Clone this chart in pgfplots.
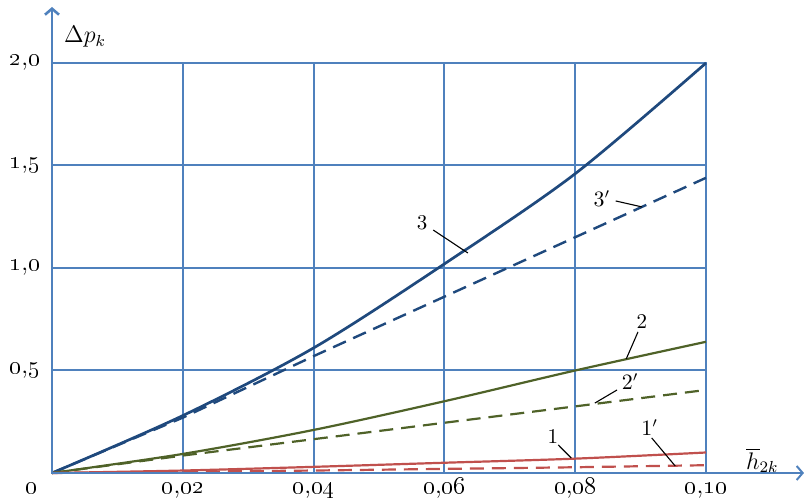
\documentclass[border=0pt]{standalone}
\usepackage{pgfplots}
\pgfplotsset{compat=1.18}
\usetikzlibrary{arrows.meta}
\definecolor{gridblue}{RGB}{79,129,189}
\definecolor{cthree}{RGB}{31,73,125}
\definecolor{ctwo}{RGB}{79,98,40}
\definecolor{cone}{RGB}{192,80,77}
\newcommand{\os}[2]{\oldstylenums{#1},\oldstylenums{#2}}
\begin{document}
\begin{tikzpicture}
\begin{axis}[
  at={(0,0)}, anchor=origin,
  scale only axis, width=327pt, height=205pt,
  xmin=0, xmax=0.1, ymin=0, ymax=2,
  xtick={0.02,0.04,0.06,0.08,0.10},
  xticklabels={{\os{0}{02}},{\os{0}{04}},{\os{0}{06}},{\os{0}{08}},{\os{0}{10}}},
  ytick={0.5,1,1.5,2},
  yticklabels={{\os{0}{5}},{\os{1}{0}},{\os{1}{5}},{\os{2}{0}}},
  major tick length=0pt,
  grid=major,
  grid style={gridblue, line width=1pt},
  axis line style={gridblue, line width=1pt},
  tick label style={font=\fontsize{12.5}{12.5}\selectfont, text=black},
  xticklabel style={anchor=base, yshift=-10.5pt},
  yticklabel style={xshift=-2.5pt},
  clip=false,
]
\addplot[cthree, line width=1.35pt, smooth] coordinates {(0,0)(0.02,0.28)(0.04,0.61)(0.06,1.02)(0.08,1.46)(0.10,2.0)};
\addplot[cthree, line width=1.2pt, dash pattern=on 7pt off 4pt] coordinates {(0,0)(0.02,0.27)(0.04,0.57)(0.06,0.86)(0.08,1.15)(0.10,1.44)};
\addplot[ctwo, line width=1.1pt, smooth] coordinates {(0,0)(0.02,0.093)(0.04,0.21)(0.06,0.35)(0.08,0.50)(0.10,0.64)};
\addplot[ctwo, line width=1.1pt, dash pattern=on 7pt off 4pt] coordinates {(0,0)(0.02,0.085)(0.04,0.165)(0.06,0.245)(0.08,0.325)(0.10,0.405)};
\addplot[cone, line width=1.1pt, smooth] coordinates {(0,0)(0.02,0.012)(0.04,0.03)(0.06,0.05)(0.08,0.07)(0.10,0.10)};
\addplot[cone, line width=1.1pt, dash pattern=on 7pt off 4pt] coordinates {(0,0)(0.02,0.006)(0.04,0.012)(0.06,0.02)(0.08,0.028)(0.10,0.038)};
% axis arrows
\draw[gridblue, line width=1.3pt, -{Straight Barb[length=3pt,width=7pt]}] (axis cs:0,0) -- ([yshift=28pt]axis cs:0,2);
\draw[gridblue, line width=1pt, -{Straight Barb[length=3pt,width=7pt]}] (axis cs:0,0) -- ([xshift=49pt]axis cs:0.1,0);
% labels
\node[font=\fontsize{11.5}{11.5}\selectfont] at (axis cs:0.00505,2.127) {$\Delta p_k$};
\node[font=\fontsize{11.5}{11.5}\selectfont] at (axis cs:0.1086,0.06) {$\overline{h}_{2k}$};
\node[font=\fontsize{12.5}{12.5}\selectfont, anchor=base] at ([yshift=-10.5pt]axis cs:-0.0031,0) {\oldstylenums{0}};
\begin{scope}[font=\fontsize{10.5}{10.5}\selectfont]
\node at (axis cs:0.0566,1.22) {3};
\draw[black, line width=0.55pt] (axis cs:0.0583,1.185) -- (axis cs:0.0636,1.073);
\node at (axis cs:0.0841,1.34) {$3'$};
\draw[black, line width=0.55pt] (axis cs:0.0862,1.327) -- (axis cs:0.0902,1.298);
\node at (axis cs:0.0902,0.737) {2};
\draw[black, line width=0.55pt] (axis cs:0.0896,0.688) -- (axis cs:0.0878,0.556);
\node at (axis cs:0.0884,0.444) {$2'$};
\draw[black, line width=0.55pt] (axis cs:0.0864,0.405) -- (axis cs:0.083,0.341);
\node at (axis cs:0.0766,0.176) {1};
\draw[black, line width=0.55pt] (axis cs:0.0774,0.137) -- (axis cs:0.0794,0.073);
\node at (axis cs:0.0914,0.22) {$1'$};
\draw[black, line width=0.55pt] (axis cs:0.0917,0.171) -- (axis cs:0.0953,0.034);
\end{scope}
\end{axis}
\pgfresetboundingbox
\useasboundingbox (-26pt,-12.5pt) rectangle (376.5pt,236.5pt);
\end{tikzpicture}
\end{document}
